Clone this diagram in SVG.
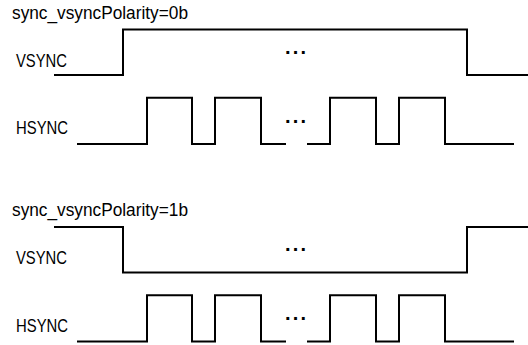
<svg xmlns="http://www.w3.org/2000/svg" width="528" height="345" viewBox="0 0 528 345">
  <style>
    .lbl { font-family: "Liberation Sans", Arial, sans-serif; font-size: 17.5px; fill: #000; }
    .dots { font-family: "Liberation Sans", Arial, sans-serif; font-size: 20px; font-weight: bold; fill: #000; }
    .wave { fill: none; stroke: #000; stroke-width: 2; stroke-linejoin: miter; stroke-linecap: butt; }
  </style>
  <rect width="528" height="345" fill="#fff"/>

  <g id="polarity0">
    <text class="lbl" x="12" y="18.7" textLength="176" lengthAdjust="spacingAndGlyphs">sync_vsyncPolarity=0b</text>
    <g id="vsync0">
      <text class="lbl" x="16" y="66.5" textLength="51" lengthAdjust="spacingAndGlyphs">VSYNC</text>
      <path class="wave" d="M54,75 H123 V29.5 H467 V75 H528"/>
      <text class="dots" x="284.9 292.7 300.5" y="54.1">...</text>
    </g>
    <g id="hsync0">
      <text class="lbl" x="16" y="134.3" textLength="52" lengthAdjust="spacingAndGlyphs">HSYNC</text>
      <path class="wave" d="M77,144 H147 V97.7 H192 V144 H215 V97.7 H261 V144 H286"/>
      <path class="wave" d="M307,144 H330 V97.7 H376 V144 H399 V97.7 H445 V144 H514"/>
      <text class="dots" x="284.9 292.7 300.5" y="123.1">...</text>
    </g>
  </g>

  <g id="polarity1">
    <text class="lbl" x="12" y="216.2" textLength="176" lengthAdjust="spacingAndGlyphs">sync_vsyncPolarity=1b</text>
    <g id="vsync1">
      <text class="lbl" x="16" y="264" textLength="51" lengthAdjust="spacingAndGlyphs">VSYNC</text>
      <path class="wave" d="M54,227 H123 V272.5 H467 V227 H528"/>
      <text class="dots" x="284.9 292.7 300.5" y="251.3">...</text>
    </g>
    <g id="hsync1">
      <text class="lbl" x="16" y="331.8" textLength="52" lengthAdjust="spacingAndGlyphs">HSYNC</text>
      <path class="wave" d="M77,341.5 H147 V295.2 H192 V341.5 H215 V295.2 H261 V341.5 H286"/>
      <path class="wave" d="M307,341.5 H330 V295.2 H376 V341.5 H399 V295.2 H445 V341.5 H514"/>
      <text class="dots" x="284.9 292.7 300.5" y="320.3">...</text>
    </g>
  </g>
</svg>
